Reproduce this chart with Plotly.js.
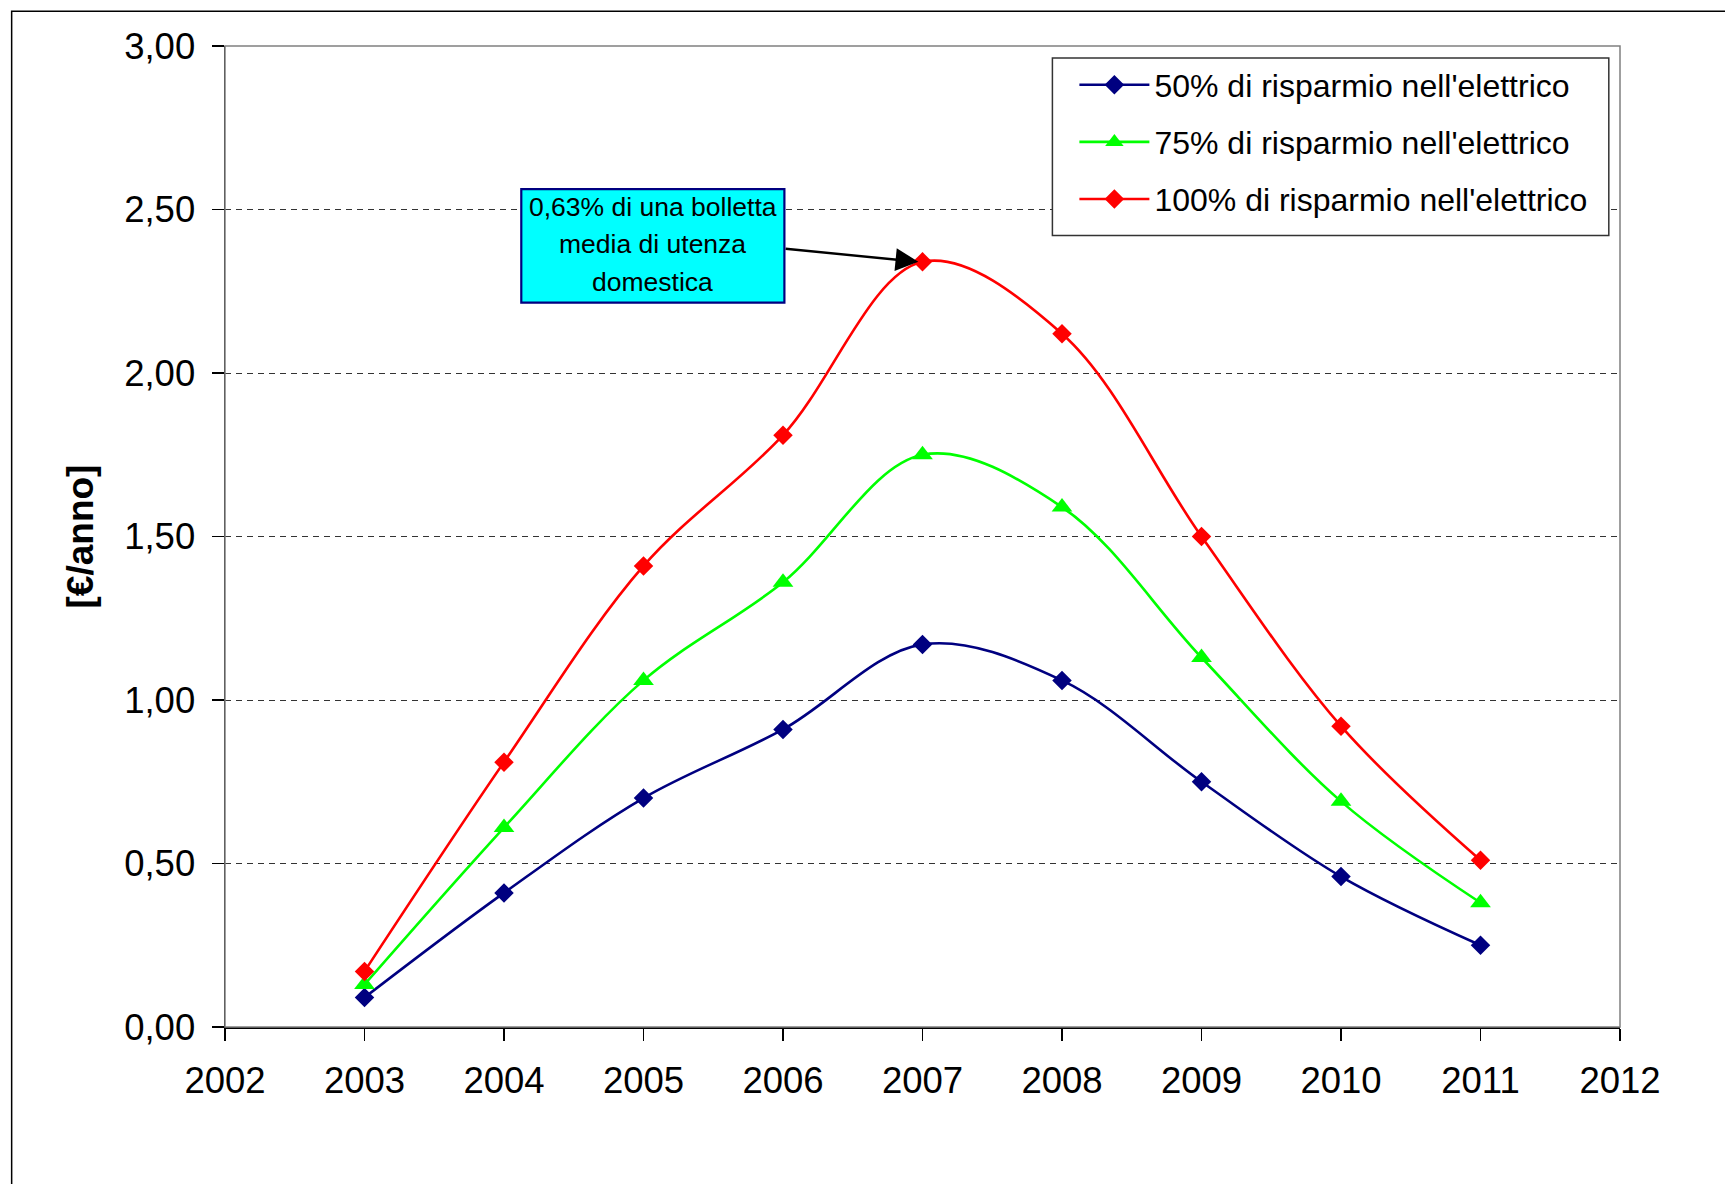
<!DOCTYPE html>
<html><head><meta charset="utf-8">
<script src="https://cdn.plot.ly/plotly-3.0.1.min.js"></script>
<style>html,body{margin:0;padding:0;background:#fff}#chart{width:1725px;height:1184px}</style>
</head><body><div id="chart"></div>
<script>
const years = [2003, 2004, 2005, 2006, 2007, 2008, 2009, 2010, 2011];
const risparmio50 = [0.09, 0.41, 0.70, 0.91, 1.17, 1.06, 0.75, 0.46, 0.25];
const risparmio75 = [0.13, 0.61, 1.06, 1.36, 1.75, 1.59, 1.13, 0.69, 0.38];
const risparmio100 = [0.17, 0.81, 1.41, 1.81, 2.34, 2.12, 1.50, 0.92, 0.51];
const seriesNames = ["50% di risparmio nell'elettrico", "75% di risparmio nell'elettrico", "100% di risparmio nell'elettrico"];
const xTickVals = [2002, 2003, 2004, 2005, 2006, 2007, 2008, 2009, 2010, 2011, 2012];
const yTickVals = [0, 0.5, 1.0, 1.5, 2.0, 2.5, 3.0];
const yTickText = ["0,00", "0,50", "1,00", "1,50", "2,00", "2,50", "3,00"];
const yTitle = "[€/anno]";
const noteLines = ["0,63% di una bolletta", "media di utenza", "domestica"];
const noteYear = 2006.97, noteValue = 2.34;

const FONT = "'Liberation Sans', Arial, sans-serif";
const W = 1725, H = 1184;
const L = 224.5, R = 1620.5, T = 45.7, B = 1027.5;
const pw = R - L, ph = B - T;
const px = v => (v - L) / pw;
const py = v => (B - v) / ph;

function tr(y, name, color, symbol, size, grp) {
  return {
    x: years, y: y, name: name, type: 'scatter', mode: 'lines+markers',
    legendgroup: grp,
    line: {color: color, width: 2.6, shape: 'spline', smoothing: 1},
    marker: {color: color, symbol: symbol, size: size, line: {width: 0}},
    hoverinfo: 'x+y'
  };
}
const data = [
  tr(risparmio50, seriesNames[0], '#000080', 'diamond', 15, 'a'),
  tr(risparmio75, seriesNames[1], '#00FF00', 'triangle-up', 18, 'b'),
  tr(risparmio100, seriesNames[2], '#FF0000', 'diamond', 15, 'c')
];

// annotation box geometry (px)
const boxL = 521, boxR = 784.3, boxT = 189, boxB = 302.5;
const lineCY = [206.8, 243.6, 281.6];
const arrowTail = [784.3, 246.4], arrowTip = [918.5, 259.6];

const annotations = [
  {x: noteYear, y: noteValue, xref: 'x', yref: 'y', text: '',
   showarrow: true, arrowhead: 2, arrowsize: 1.9, arrowwidth: 2.4, arrowcolor: '#000',
   ax: arrowTail[0] - arrowTip[0], ay: arrowTail[1] - arrowTip[1], standoff: 0}
].concat(noteLines.map((t, i) => ({
  x: px((boxL + boxR) / 2), y: py(lineCY[i]), xref: 'paper', yref: 'paper',
  xanchor: 'center', yanchor: 'middle', showarrow: false, text: t,
  font: {size: 26.5, family: FONT, color: '#000'}
})));

const layout = {
  width: W, height: H,
  margin: {l: L, r: W - R, t: T, b: H - B, pad: 0},
  paper_bgcolor: '#fff', plot_bgcolor: '#fff',
  font: {family: FONT, color: '#000'},
  separators: ',.',
  showlegend: true,
  xaxis: {
    range: [2002, 2012], tickvals: xTickVals, ticktext: xTickVals.map(String),
    showgrid: false, zeroline: false,
    showline: true, linecolor: '#000', linewidth: 1.5,
    ticks: 'outside', ticklen: 12, tickwidth: 1.2, tickcolor: '#000',
    tickfont: {size: 36.5, family: FONT, color: '#000'},
    ticklabelstandoff: 9
  },
  yaxis: {
    range: [0, 3], tickvals: yTickVals, ticktext: yTickText,
    showgrid: true, gridcolor: '#333', gridwidth: 1, griddash: '6px,5px',
    zeroline: false,
    showline: true, linecolor: '#000', linewidth: 1.5,
    ticks: 'outside', ticklen: 12, tickwidth: 1.2, tickcolor: '#000',
    tickfont: {size: 36.5, family: FONT, color: '#000'},
    ticklabelstandoff: 9,
    title: {text: yTitle, font: {size: 37, family: FONT, color: '#000', weight: 'bold'}, standoff: 19}
  },
  legend: {
    x: px(1052.5 + 22), y: py(57.2), xanchor: 'left', yanchor: 'top',
    bgcolor: 'rgba(0,0,0,0)', borderwidth: 0,
    font: {size: 32, family: FONT, color: '#000'},
    tracegroupgap: 12.5, itemwidth: 70, traceorder: 'grouped'
  },
  shapes: [
    {type: 'rect', xref: 'paper', yref: 'paper', x0: 0, x1: 1, y0: 0, y1: 1,
     line: {color: '#808080', width: 1.5}, fillcolor: 'rgba(0,0,0,0)', layer: 'above'},
    {type: 'rect', xref: 'paper', yref: 'paper', x0: px(11), x1: px(W + 50), y0: py(H + 50), y1: py(11),
     line: {color: '#000', width: 1.5}, fillcolor: 'rgba(0,0,0,0)', layer: 'above'},
    {type: 'rect', xref: 'paper', yref: 'paper', x0: px(1052.5), x1: px(1609.3), y0: py(235.4), y1: py(57.6),
     line: {color: '#333', width: 1.5}, fillcolor: '#fff', layer: 'above'},
    {type: 'rect', xref: 'paper', yref: 'paper', x0: px(boxL), x1: px(boxR), y0: py(boxB), y1: py(boxT),
     line: {color: '#000080', width: 2.2}, fillcolor: '#00FFFF', layer: 'above'}
  ],
  annotations: annotations
};

Plotly.newPlot('chart', data, layout, {staticPlot: true});
</script></body></html>
